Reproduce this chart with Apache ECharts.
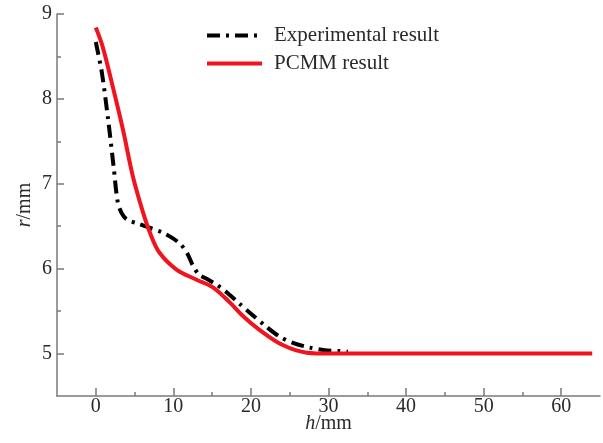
<!DOCTYPE html>
<html><head><meta charset="utf-8">
<script src="https://cdn.jsdelivr.net/npm/echarts@6/dist/echarts.min.js"></script>
<style>html,body{margin:0;padding:0;background:#fff}#c{width:603px;height:443px}</style>
</head><body><div id="c"></div>
<script>
const xTicks = [0, 10, 20, 30, 40, 50, 60];
const xMinorTicks = [5, 15, 25, 35, 45, 55];
const yTicks = [5, 6, 7, 8, 9];
const yMinorTicks = [5.5, 6.5, 7.5, 8.5];
const seriesNames = ['Experimental result', 'PCMM result'];
const expH = [0, 0.8, 1.6, 2.3, 2.8, 3.3, 4.0, 5.5, 7.0, 8.5, 9.9, 11.0, 11.8, 12.5, 13.3, 14.3, 15.6, 16.9, 18.5, 20.0, 21.8, 23.7, 25.6, 27.6, 29.5, 31.4, 32.5];
const expR = [8.67, 8.3, 7.75, 7.2, 6.8, 6.66, 6.58, 6.53, 6.48, 6.43, 6.36, 6.28, 6.18, 6.04, 5.93, 5.88, 5.81, 5.72, 5.59, 5.47, 5.33, 5.2, 5.12, 5.07, 5.04, 5.03, 5.02];
const pcmmH = [0, 0.9, 2.2, 3.5, 4.8, 6.1, 7.0, 8.2, 10.4, 13.0, 15.1, 17.3, 19.0, 21.1, 24.1, 27.2, 30, 40, 50, 64];
const pcmmR = [8.84, 8.61, 8.14, 7.64, 7.08, 6.66, 6.42, 6.19, 5.99, 5.87, 5.78, 5.6, 5.44, 5.28, 5.1, 5.01, 5.0, 5.0, 5.0, 5.0];

const font = 'Liberation Serif';
const axisColor = '#7a7a7a';
const textColor = '#2a2a2a';
const chart = echarts.init(document.getElementById('c'));
function pairs(a, b) { return a.map((v, i) => [v, b[i]]); }
const tickStyle = { color: axisColor, width: 1.5 };
chart.setOption({
  animation: false,
  backgroundColor: '#fff',
  grid: { left: 57, right: 3, top: 14, bottom: 47, containLabel: false, outerBoundsMode: 'none' },
  legend: {
    orient: 'vertical', left: 200, top: 20, itemWidth: 55, itemHeight: 14, itemGap: 7,
    textStyle: { fontFamily: font, fontSize: 21, lineHeight: 21, color: textColor, padding: [0, 0, 0, 7] },
    data: [
      { name: seriesNames[0], itemStyle: { opacity: 0 }, lineStyle: { width: 4 } },
      { name: seriesNames[1], itemStyle: { opacity: 0 }, lineStyle: { width: 4 } }
    ]
  },
  xAxis: [{
    type: 'value', min: -5, max: 65,
    axisLine: { onZero: false, lineStyle: tickStyle },
    axisTick: { show: true, inside: true, length: 8, customValues: xTicks, lineStyle: tickStyle },
    axisLabel: { customValues: xTicks, fontFamily: font, fontSize: 20, lineHeight: 20, color: textColor, margin: 1 },
    splitLine: { show: false },
    name: '{i|h}/mm', nameLocation: 'middle', nameGap: 18, nameMoveOverlap: false,
    nameTextStyle: { fontFamily: font, fontSize: 20, lineHeight: 20, color: textColor, verticalAlign: 'top', rich: { i: { fontStyle: 'italic', fontFamily: font, fontSize: 20, lineHeight: 20, color: textColor } } }
  }, {
    type: 'value', min: -5, max: 65, position: 'bottom',
    axisLine: { show: false, onZero: false },
    axisTick: { show: true, inside: true, length: 4, customValues: xMinorTicks, lineStyle: tickStyle },
    axisLabel: { show: false }, splitLine: { show: false }
  }],
  yAxis: [{
    type: 'value', min: 4.5, max: 9,
    axisLine: { show: true, onZero: false, lineStyle: tickStyle },
    axisTick: { show: true, inside: true, length: 7, customValues: yTicks, lineStyle: tickStyle },
    axisLabel: { customValues: yTicks, fontFamily: font, fontSize: 20, color: textColor, margin: 5 },
    splitLine: { show: false },
    name: '{i|r}/mm', nameLocation: 'middle', nameGap: 22, nameRotate: 90, nameMoveOverlap: false,
    nameTextStyle: { fontFamily: font, fontSize: 20, color: textColor, rich: { i: { fontStyle: 'italic', fontFamily: font, fontSize: 20, color: textColor } } }
  }, {
    type: 'value', min: 4.5, max: 9, position: 'left',
    axisLine: { show: false, onZero: false },
    axisTick: { show: true, inside: true, length: 4, customValues: yMinorTicks, lineStyle: tickStyle },
    axisLabel: { show: false }, splitLine: { show: false }
  }],
  series: [{
    name: seriesNames[0], type: 'line', data: pairs(expH, expR), showSymbol: false, smooth: 0.3,
    lineStyle: { color: '#000', width: 4, type: [13, 6, 3, 6] }, itemStyle: { color: '#000' }, z: 2
  }, {
    name: seriesNames[1], type: 'line', data: pairs(pcmmH, pcmmR), showSymbol: false, smooth: 0.35,
    lineStyle: { color: '#f0141e', width: 4 }, itemStyle: { color: '#f0141e' }, z: 3
  }]
});
</script></body></html>
